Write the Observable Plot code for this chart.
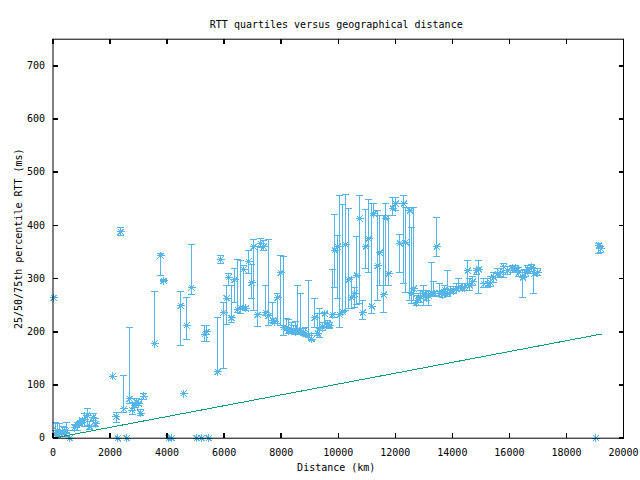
<!DOCTYPE html>
<html><head><meta charset="utf-8">
<script src="https://cdn.jsdelivr.net/npm/d3@7"></script>
<script src="https://cdn.jsdelivr.net/npm/@observablehq/plot@0.6"></script>
<style>body{margin:0;background:#fff} svg{display:block}</style>
</head><body><div id="chart"></div>
<script>
const title = "RTT quartiles versus geographical distance";
const xLabel = "Distance (km)";
const yLabel = "25/50/75th percentile RTT (ms)";
const xTicks = [0,2000,4000,6000,8000,10000,12000,14000,16000,18000,20000];
const yTicks = [0,100,200,300,400,500,600,700];

const dist = [20,88,147,239,323,404,474,589,754,849,940,1025,1105,1193,1291,1410,1491,2088,2218,2274,2368,2484,2579,2684,2779,2860,2930,3011,3070,3186,3561,3772,3877,4053,4158,4474,4579,4684,4860,5035,5211,5456,5316,5386,5772,5877,5982,6088,6158,6263,6368,6474,6579,6684,6754,6860,6965,7035,7175,7281,7386,7456,7561,7702,7772,7877,7982,8088,8193,8263,8368,8439,8509,8579,8684,8789,8860,8965,9070,9175,9281,9351,9456,9526,9632,9702,9807,9877,9982,10053,10158,10263,10368,10474,10579,10649,10754,10860,10965,11070,11175,11246,11386,11456,11596,11667,11772,11912,12018,12158,12298,12368,12509,12579,12649,12754,12825,12895,13000,13105,13175,13281,13351,13456,13561,13667,13737,13842,13947,14053,14158,14228,14368,14439,14544,14614,14719,14860,14930,15105,15246,15351,15456,15596,15702,15807,15947,16123,16228,16333,16474,16579,16649,16789,16860,17000,19035,19140,19210];
const q25 = [264,5,1,3,7,3,11,0,14,14,24,29,22,24,16,33,22,116,29,0,381,48,0,65,45,57,63,62,43,73,178,306,294,0,0,174,84,185,270,0,0,0,182,182,125,328,131,214,287,217,255,236,234,242,240,309,263,240,210,358,353,230,211,217,215,215,212,193,202,197,199,197,195,197,195,193,191,189,184,208,193,189,202,208,208,206,226,283,262,208,236,240,244,244,246,251,253,223,319,311,234,418,259,287,236,287,287,418,428,311,291,274,259,253,259,249,255,255,249,259,249,266,266,342,266,264,273,266,272,272,277,277,277,277,287,277,287,307,272,283,283,285,292,302,304,302,307,311,313,304,264,304,309,313,272,306,0,347,350];
const q50 = [264,9,14,9,13,9,14,0,20,24,28,33,35,43,22,39,27,116,40,0,388,55,0,74,53,61,68,65,47,79,178,343,296,0,0,249,84,212,283,0,0,0,195,200,125,336,236,263,302,226,298,242,245,317,244,332,292,360,232,366,360,236,230,221,219,264,311,208,208,202,202,204,200,204,199,197,197,193,186,226,197,206,210,234,214,212,232,353,360,232,238,364,298,264,272,306,413,236,360,375,248,422,324,349,270,413,309,432,441,366,441,368,428,272,281,255,262,266,272,264,268,272,272,360,272,270,279,272,277,277,281,283,283,283,315,287,294,315,317,290,290,292,302,309,311,322,315,319,319,311,302,311,317,321,309,311,0,362,356];
const q75 = [264,30,27,28,22,20,30,0,26,30,32,37,46,56,31,47,37,116,49,0,396,118,0,208,67,65,75,68,54,84,276,347,298,0,0,276,84,264,364,0,0,0,212,212,226,344,255,287,309,287,319,336,334,325,248,353,326,373,360,375,371,287,373,255,225,272,343,341,225,223,218,212,219,287,272,206,208,296,197,262,234,244,218,236,221,218,317,420,381,456,439,458,432,302,283,379,456,259,430,448,441,441,428,418,418,441,418,452,452,383,456,434,434,396,434,268,272,277,287,277,275,330,294,414,290,277,287,315,285,285,290,300,290,290,334,300,304,319,334,300,300,304,311,319,319,328,322,325,325,321,315,317,325,326,319,319,0,366,360];

const lineDist = [0, 19250];
const lineRTT = [0, 196];

const rows = dist.map((d, i) => ({d, lo: q25[i], med: q50[i], hi: q75[i]}));
const line = lineDist.map((d, i) => ({d, v: lineRTT[i]}));

const blue = "#56b4e9";
const green = "#009e73";
const sym = f => ({draw(c) { f(c); }});
const asterisk = sym(c => {
  c.moveTo(-4, 0); c.lineTo(4, 0); c.moveTo(0, -4); c.lineTo(0, 4);
  c.moveTo(-3, -3); c.lineTo(3, 3); c.moveTo(-3, 3); c.lineTo(3, -3);
});
const cap = sym(c => { c.moveTo(-3.5, 0); c.lineTo(3.5, 0); });
const tickUp = sym(c => { c.moveTo(0, 0); c.lineTo(0, -5); });
const tickDown = sym(c => { c.moveTo(0, 0); c.lineTo(0, 5); });
const tickRight = sym(c => { c.moveTo(0, 0); c.lineTo(5, 0); });
const tickLeft = sym(c => { c.moveTo(0, 0); c.lineTo(-5, 0); });

const plot = Plot.plot({
  width: 640, height: 480,
  marginLeft: 52.5, marginRight: 17, marginTop: 38.7, marginBottom: 42.3,
  style: {fontFamily: "'DejaVu Sans Mono', monospace", fontSize: "10px", background: "#fff", color: "#000"},
  x: {domain: [0, 20000], ticks: xTicks, tickSize: 0, tickPadding: 11, tickFormat: d => String(d), label: null},
  y: {domain: [0, 750], ticks: yTicks, tickSize: 0, tickPadding: 8, tickFormat: d => String(d), label: null},
  marks: [
    Plot.ruleX(rows, {x: "d", y1: "lo", y2: "hi", stroke: blue, strokeWidth: 1}),
    Plot.dot(rows, {x: "d", y: "lo", symbol: cap, fill: "none", stroke: blue, strokeWidth: 1}),
    Plot.dot(rows, {x: "d", y: "hi", symbol: cap, fill: "none", stroke: blue, strokeWidth: 1}),
    Plot.dot(rows, {x: "d", y: "med", symbol: asterisk, fill: "none", stroke: blue, strokeWidth: 1}),
    Plot.line(line, {x: "d", y: "v", stroke: green, strokeWidth: 1}),
    Plot.frame({stroke: "#000", strokeWidth: 1}),
    Plot.dot(xTicks, {x: d => d, frameAnchor: "bottom", symbol: tickUp, fill: "none", stroke: "#000"}),
    Plot.dot(xTicks, {x: d => d, frameAnchor: "top", symbol: tickDown, fill: "none", stroke: "#000"}),
    Plot.dot(yTicks, {y: d => d, frameAnchor: "left", symbol: tickRight, fill: "none", stroke: "#000"}),
    Plot.dot(yTicks, {y: d => d, frameAnchor: "right", symbol: tickLeft, fill: "none", stroke: "#000"}),
    Plot.text([title], {text: d => d, frameAnchor: "top", textAnchor: "middle", dy: -18.7, dx: -2, fill: "#000"}),
    Plot.text([xLabel], {text: d => d, frameAnchor: "bottom", textAnchor: "middle", dy: 32.3, dx: -2, fill: "#000"}),
    Plot.text([yLabel], {text: d => d, frameAnchor: "left", textAnchor: "middle", dx: -34.5, rotate: -90, fill: "#000"})
  ]
});
plot.querySelectorAll("g[aria-label='rule'], g[aria-label='dot'], g[aria-label='line'], g[aria-label='frame']").forEach(g => g.setAttribute("shape-rendering", "crispEdges"));
document.getElementById("chart").appendChild(plot);
</script>
</body></html>
